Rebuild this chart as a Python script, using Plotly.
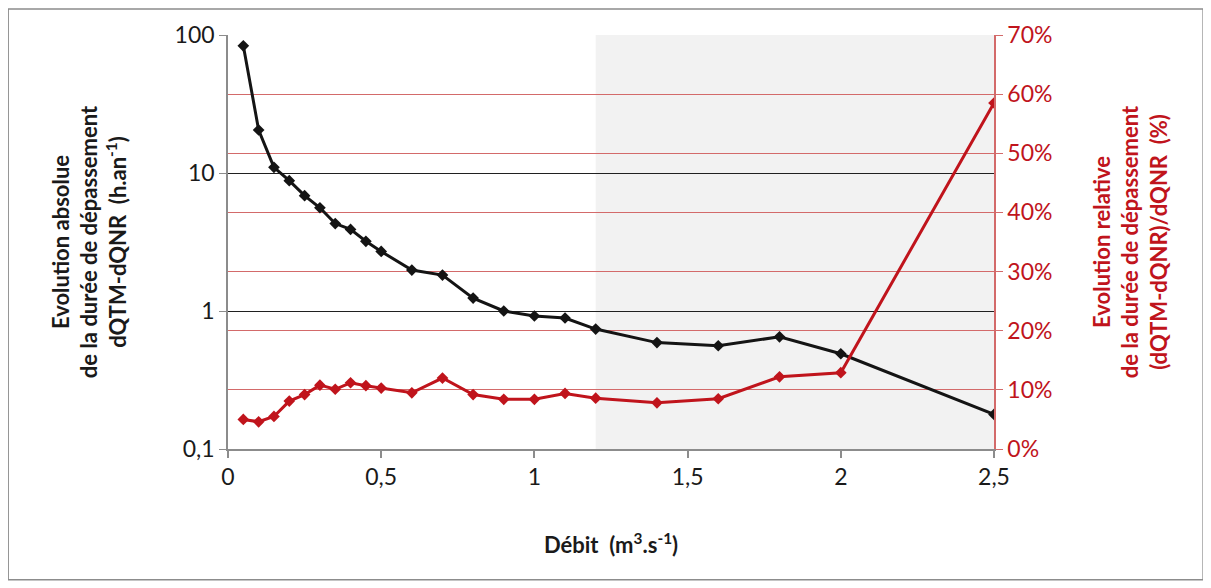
import plotly.graph_objects as go

# débits (m3/s)
debit = [0.05, 0.1, 0.15, 0.2, 0.25, 0.3, 0.35, 0.4, 0.45, 0.5, 0.6, 0.7, 0.8,
         0.9, 1.0, 1.1, 1.2, 1.4, 1.6, 1.8, 2.0, 2.5]
# évolution absolue (h/an), axe log
evol_abs = [83.5, 20.5, 11.0, 8.8, 6.85, 5.6, 4.3, 3.9, 3.2, 2.7, 1.98, 1.82, 1.24,
            1.0, 0.92, 0.89, 0.74, 0.59, 0.56, 0.65, 0.49, 0.178]
# évolution relative (%)
evol_rel = [5.0, 4.6, 5.5, 8.1, 9.2, 10.8, 10.1, 11.2, 10.7, 10.3, 9.5, 12.0, 9.2,
            8.4, 8.4, 9.4, 8.6, 7.8, 8.5, 12.2, 12.9, 58.5]

shade_start = 1.2
shade_end = 2.5

x_ticks = [0, 0.5, 1, 1.5, 2, 2.5]
x_ticktext = ["0", "0,5", "1", "1,5", "2", "2,5"]
y_ticks = [0.1, 1, 10, 100]
y_ticktext = ["0,1", "1", "10", "100"]
y2_ticks = [0, 10, 20, 30, 40, 50, 60, 70]
y2_ticktext = ["0%", "10%", "20%", "30%", "40%", "50%", "60%", "70%"]

FONT = "Lato, 'Open Sans', sans-serif"
RED = "#c0141c"
GRID_RED = "#d36a6a"

fig = go.Figure()

fig.add_trace(go.Scatter(x=debit, y=evol_abs, mode="lines+markers",
                         line=dict(color="#141414", width=3),
                         marker=dict(symbol="diamond", size=9, color="#141414"),
                         showlegend=False))
fig.add_trace(go.Scatter(x=debit, y=evol_rel, mode="lines+markers", yaxis="y2",
                         line=dict(color=RED, width=3),
                         marker=dict(symbol="diamond", size=9, color=RED),
                         showlegend=False))

# zone grisée
fig.add_shape(type="rect", xref="x", yref="paper", x0=shade_start, x1=shade_end,
              y0=0, y1=1, fillcolor="#f2f2f2", line_width=0, layer="below")

# cadre du graphique
fig.add_shape(type="rect", xref="paper", yref="paper",
              x0=-0.287, x1=1.273, y0=-0.316, y1=1.063,
              line=dict(color="#8c8c8c", width=1.5), fillcolor="rgba(0,0,0,0)")

# la page html ajoute 8 px de marge au body
fig.update_layout(
    width=1211, height=588,
    margin=dict(l=220, r=225, t=27, b=147),
    paper_bgcolor="white", plot_bgcolor="rgba(0,0,0,0)",
    font=dict(family=FONT, size=23, color="#1a1a1a"),
    xaxis=dict(range=[0, 2.5], tickvals=x_ticks, ticktext=x_ticktext,
               showgrid=False, zeroline=False,
               showline=True, linecolor="#8c8c8c", linewidth=1.5,
               ticks="outside", ticklen=7, tickcolor="#8c8c8c", tickwidth=1.5,
               title=dict(text="<b>Débit  (m<sup>3</sup>.s<sup>-1</sup>)</b>",
                          font=dict(size=22), standoff=48)),
    yaxis=dict(type="log", range=[-1, 2], tickvals=y_ticks, ticktext=y_ticktext,
               showgrid=True, gridcolor="#202020", gridwidth=1.2, zeroline=False,
               showline=True, linecolor="#8c8c8c", linewidth=1.5,
               ticks="outside", ticklen=7, tickcolor="#8c8c8c",
               title=dict(text="<b>Evolution absolue<br>de la durée de dépassement<br>"
                               "dQTM-dQNR  (h.an<sup>-1</sup>)</b>",
                          font=dict(size=22), standoff=42)),
    yaxis2=dict(overlaying="y", side="right", range=[0, 70], tickvals=y2_ticks,
                ticktext=y2_ticktext, showgrid=True, gridcolor=GRID_RED, gridwidth=1.2,
                zeroline=False, showline=True, linecolor=GRID_RED, linewidth=1.5,
                ticks="outside", ticklen=7, tickcolor=GRID_RED,
                tickfont=dict(color=RED),
                title=dict(text="<b>Evolution relative<br>de la durée de dépassement<br>"
                                "(dQTM-dQNR)/dQNR  (%)</b>",
                           font=dict(size=22, color=RED), standoff=43)),
)

fig.write_html("out.html")
